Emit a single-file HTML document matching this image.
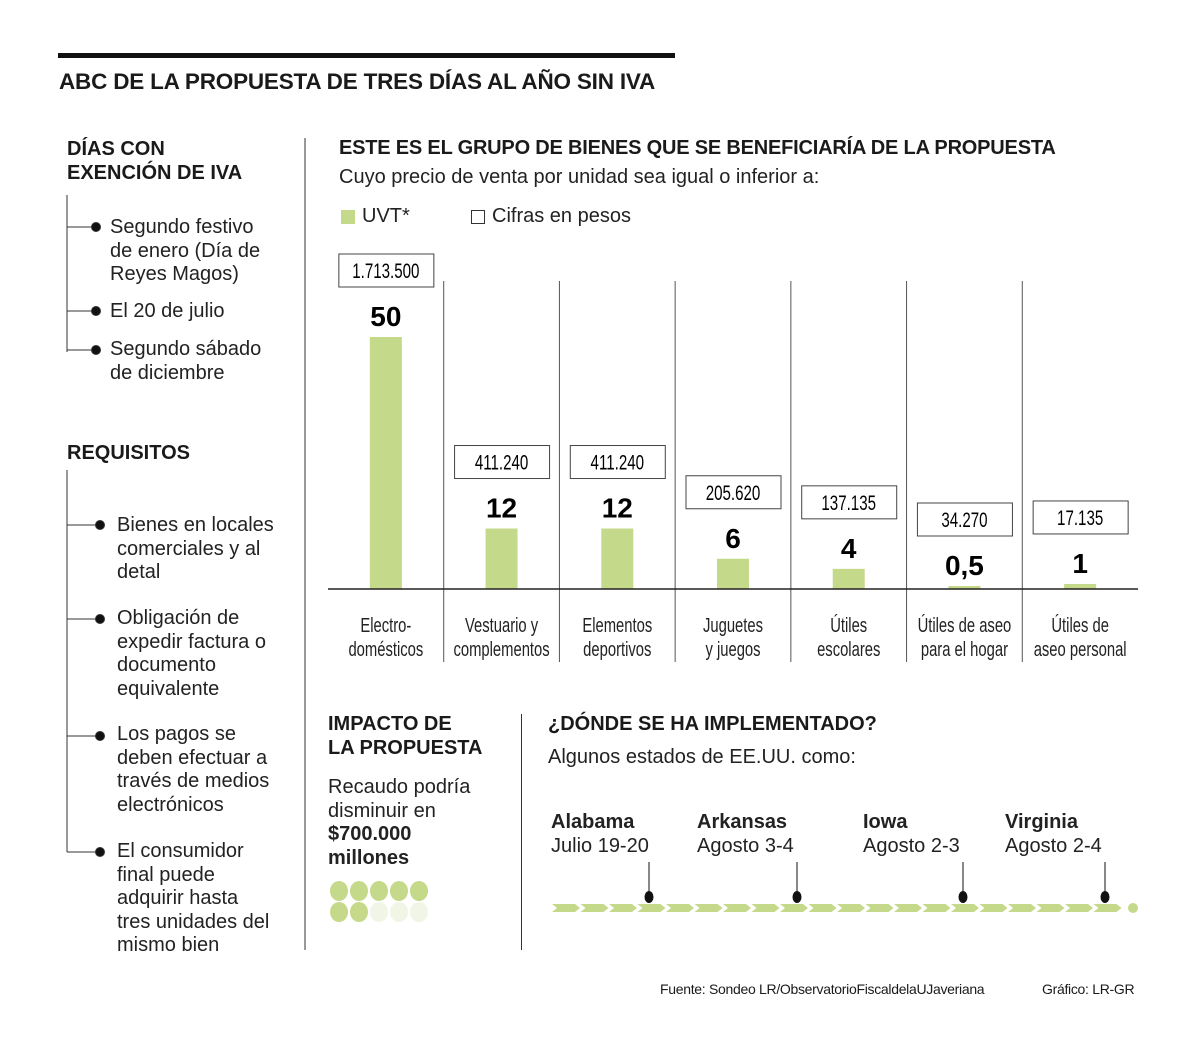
<!DOCTYPE html>
<html><head><meta charset="utf-8"><style>
body{margin:0;background:#fff;width:1200px;height:1049px;position:relative;overflow:hidden;font-family:"Liberation Sans",sans-serif;color:#1a1a1a}
.a{position:absolute;white-space:nowrap}
.h{font-weight:bold;font-size:20px;line-height:24px}
.t{font-size:20px;line-height:23.5px;color:#222}
</style></head><body>
<div class="a" style="left:58px;top:53px;width:617px;height:5px;background:#111"></div>
<div class="a" style="left:59px;top:69px;font-size:22.5px;font-weight:bold;letter-spacing:-0.2px">ABC DE LA PROPUESTA DE TRES DÍAS AL AÑO SIN IVA</div>

<div class="a h" style="left:67px;top:137px">DÍAS CON<br>EXENCIÓN DE IVA</div>
<svg class="a" style="left:0;top:0" width="320" height="1000">
<g stroke="#333" stroke-width="1" fill="#111">
<line x1="67" y1="195" x2="67" y2="352"/>
<line x1="67" y1="227" x2="96" y2="227"/><circle cx="96" cy="227" r="4.5"/>
<line x1="67" y1="311" x2="96" y2="311"/><circle cx="96" cy="311" r="4.5"/>
<line x1="67" y1="350" x2="96" y2="350"/><circle cx="96" cy="350" r="4.5"/>
<line x1="67" y1="470" x2="67" y2="852"/>
<line x1="67" y1="525" x2="100" y2="525"/><circle cx="100" cy="525" r="4.5"/>
<line x1="67" y1="619" x2="100" y2="619"/><circle cx="100" cy="619" r="4.5"/>
<line x1="67" y1="736" x2="100" y2="736"/><circle cx="100" cy="736" r="4.5"/>
<line x1="67" y1="852" x2="100" y2="852"/><circle cx="100" cy="852" r="4.5"/>
<line x1="305" y1="138" x2="305" y2="950"/>
</g></svg>
<div class="a t" style="left:110px;top:216px">Segundo festivo<br>de enero (Día de<br>Reyes Magos)</div>
<div class="a t" style="left:110px;top:300px">El 20 de julio</div>
<div class="a t" style="left:110px;top:338px">Segundo sábado<br>de diciembre</div>
<div class="a h" style="left:67px;top:441px">REQUISITOS</div>
<div class="a t" style="left:117px;top:514px">Bienes en locales<br>comerciales y al<br>detal</div>
<div class="a t" style="left:117px;top:607px">Obligación de<br>expedir factura o<br>documento<br>equivalente</div>
<div class="a t" style="left:117px;top:723px">Los pagos se<br>deben efectuar a<br>través de medios<br>electrónicos</div>
<div class="a t" style="left:117px;top:840px">El consumidor<br>final puede<br>adquirir hasta<br>tres unidades del<br>mismo bien</div>

<div class="a h" style="left:339px;top:136px;letter-spacing:-0.2px">ESTE ES EL GRUPO DE BIENES QUE SE BENEFICIARÍA DE LA PROPUESTA</div>
<div class="a t" style="left:339px;top:166px">Cuyo precio de venta por unidad sea igual o inferior a:</div>
<div class="a" style="left:341px;top:210px;width:14px;height:14px;background:#c5d98a"></div>
<div class="a t" style="left:362px;top:205px">UVT*</div>
<div class="a" style="left:471px;top:210px;width:12px;height:12px;border:1px solid #333"></div>
<div class="a t" style="left:492px;top:205px">Cifras en pesos</div>

<svg id="chart" class="a" style="left:0;top:0" width="1200" height="680"></svg>

<div class="a h" style="left:328px;top:712px">IMPACTO DE<br>LA PROPUESTA</div>
<div class="a t" style="left:328px;top:776px">Recaudo podría<br>disminuir en<br><b>$700.000<br>millones</b></div>
<svg class="a" style="left:320px;top:875px" width="120" height="50">
<g fill="#c5d98a"><ellipse cx="19" cy="16" rx="9" ry="10"/><ellipse cx="39" cy="16" rx="9" ry="10"/><ellipse cx="59" cy="16" rx="9" ry="10"/><ellipse cx="79" cy="16" rx="9" ry="10"/><ellipse cx="99" cy="16" rx="9" ry="10"/><ellipse cx="19" cy="37" rx="9" ry="10"/><ellipse cx="39" cy="37" rx="9" ry="10"/></g>
<g fill="#f1f5e6"><ellipse cx="59" cy="37" rx="9" ry="10"/><ellipse cx="79" cy="37" rx="9" ry="10"/><ellipse cx="99" cy="37" rx="9" ry="10"/></g></svg>
<div class="a" style="left:521px;top:714px;width:1px;height:236px;background:#333"></div>
<div class="a h" style="left:548px;top:712px">¿DÓNDE SE HA IMPLEMENTADO?</div>
<div class="a t" style="left:548px;top:746px">Algunos estados de EE.UU. como:</div>
<div class="a t" style="left:551px;top:811px"><b>Alabama</b><br>Julio 19-20</div>
<div class="a t" style="left:697px;top:811px"><b>Arkansas</b><br>Agosto 3-4</div>
<div class="a t" style="left:863px;top:811px"><b>Iowa</b><br>Agosto 2-3</div>
<div class="a t" style="left:1005px;top:811px"><b>Virginia</b><br>Agosto 2-4</div>
<svg id="tl" class="a" style="left:0;top:850px" width="1200" height="70"></svg>

<div class="a" style="left:660px;top:981px;font-size:14px;letter-spacing:-0.3px">Fuente: Sondeo LR/ObservatorioFiscaldelaUJaveriana</div>
<div class="a" style="left:1042px;top:981px;font-size:14px;letter-spacing:-0.3px">Gráfico: LR-GR</div>
<script>
const categories=["Electro-|domésticos","Vestuario y|complementos","Elementos|deportivos","Juguetes|y juegos","Útiles|escolares","Útiles de aseo|para el hogar","Útiles de|aseo personal"];
const uvtValues=[50,12,12,6,4,0.5,1];
const uvtLabels=["50","12","12","6","4","0,5","1"];
const pesosLabels=["1.713.500","411.240","411.240","205.620","137.135","34.270","17.135"];
const NS="http://www.w3.org/2000/svg";
const svg=document.getElementById('chart');
function mk(t,a,p){const e=document.createElementNS(NS,t);for(const k in a)e.setAttribute(k,a[k]);(p||svg).appendChild(e);return e;}
const x0=328,x1=1138,base=589,colW=(x1-x0)/7;
const y=v=>base-v*5.04;
const xc=i=>x0+colW*(i+0.5);
for(let i=1;i<7;i++){const l=mk('line',{x1:x0+colW*i,x2:x0+colW*i,y1:281,y2:662,stroke:'#555','stroke-width':1});

}
uvtValues.forEach((v,i)=>{
 const top=Math.min(y(v),base-3);
 const r=mk('rect',{x:xc(i)-16,y:top,width:32,height:base-top,fill:'#c5d98a'});
 
 
 const ly=top-22;
 const t=mk('text',{x:xc(i),y:ly+11,'text-anchor':'middle','font-size':28,'font-weight':'bold','font-family':'Liberation Sans'});
 t.textContent=uvtLabels[i];
 
 
 const by=ly-61;
 const b=mk('rect',{x:xc(i)-47,y:by,width:95,height:33,fill:'#fff',stroke:'#444','stroke-width':1});
 
 
 const g=mk('g',{transform:`translate(${xc(i)},${by+24}) scale(0.72,1)`});
 const pt=mk('text',{x:0,y:0,'text-anchor':'middle','font-size':21,'font-family':'Liberation Sans'},g);
 pt.textContent=pesosLabels[i];
 
 
 categories[i].split('|').forEach((s,j)=>{
  const cg=mk('g',{transform:`translate(${xc(i)},${632+j*24}) scale(0.74,1)`});
  const c=mk('text',{x:0,y:0,'text-anchor':'middle','font-size':20,'font-family':'Liberation Sans',fill:'#222'},cg);
  c.textContent=s;
  
  
 });
});
const ax=mk('line',{x1:x0,x2:x1,y1:base,y2:base,stroke:'#222','stroke-width':1.5});


const tl=document.getElementById('tl');
let s='';
for(let x=552;x<1122;x+=28.5){s+=`<polygon points="${x},54 ${x+23},54 ${x+28},58 ${x+23},62 ${x},62 ${x+5},58" fill="#c5d98a"/>`;}
s+='<circle cx="1133" cy="58" r="5" fill="#c5d98a"/>';
[649,797,963,1105].forEach(x=>{s+=`<line x1="${x}" y1="12" x2="${x}" y2="46" stroke="#111"/><ellipse cx="${x}" cy="47" rx="4.5" ry="6" fill="#111"/>`;});
tl.innerHTML=s;
</script>
</body></html>
